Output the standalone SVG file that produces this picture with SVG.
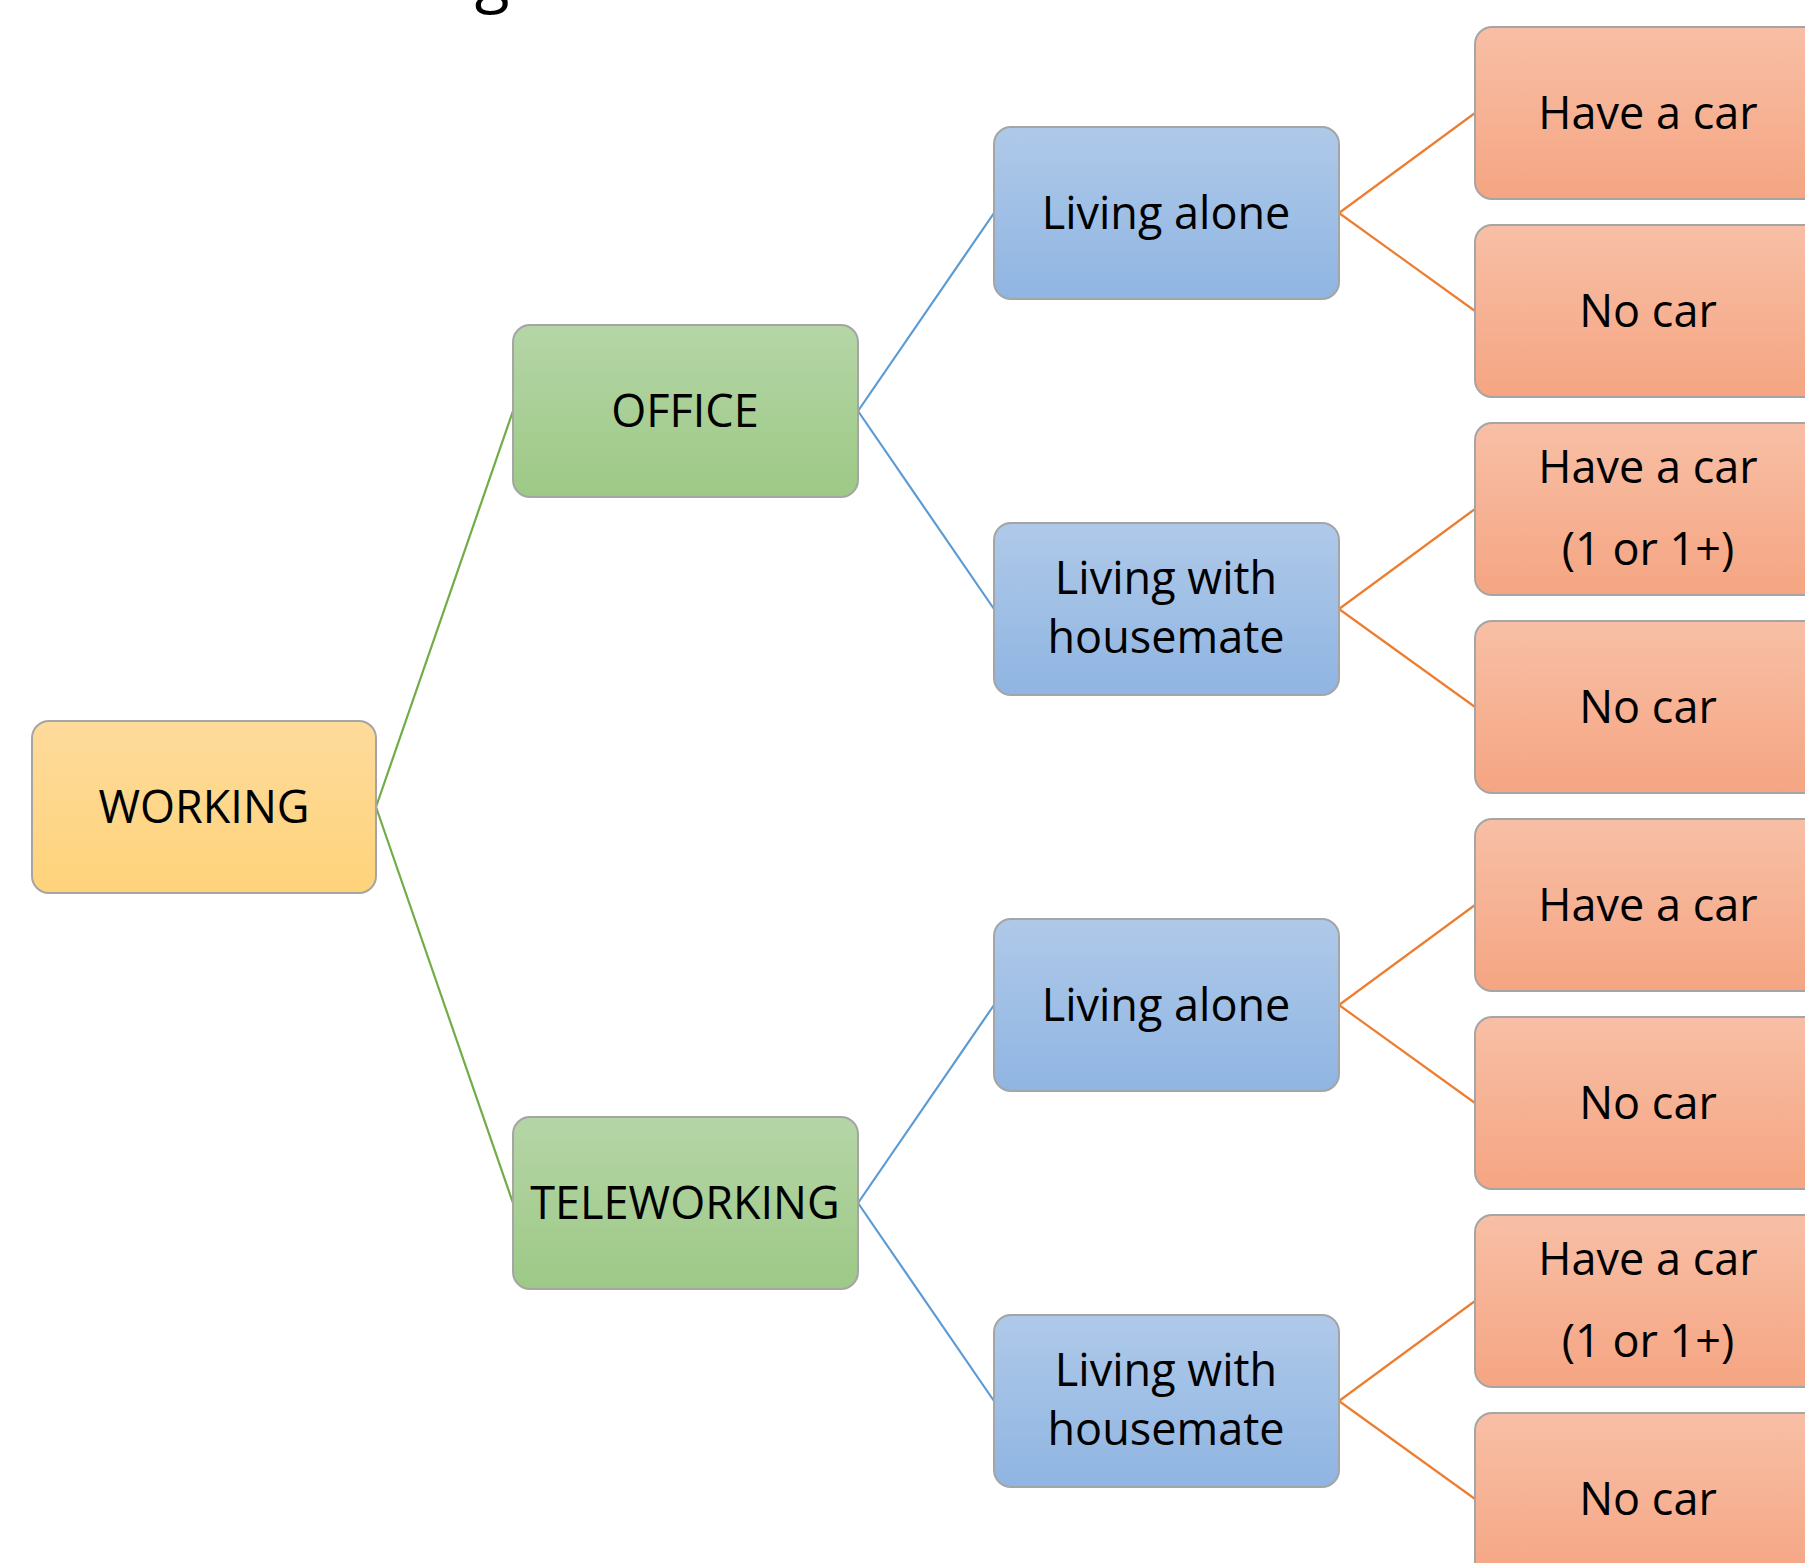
<svg xmlns="http://www.w3.org/2000/svg" width="1805" height="1563" viewBox="0 0 1805 1563">
<defs>
<linearGradient id="gY" x1="0" y1="0" x2="0" y2="1"><stop offset="0" stop-color="#FEDB9C"/><stop offset="1" stop-color="#FED37A"/></linearGradient>
<linearGradient id="gG" x1="0" y1="0" x2="0" y2="1"><stop offset="0" stop-color="#B5D5A6"/><stop offset="1" stop-color="#9DC986"/></linearGradient>
<linearGradient id="gB" x1="0" y1="0" x2="0" y2="1"><stop offset="0" stop-color="#AFC9E9"/><stop offset="1" stop-color="#8FB5E2"/></linearGradient>
<linearGradient id="gO" x1="0" y1="0" x2="0" y2="1"><stop offset="0" stop-color="#F8BFA6"/><stop offset="1" stop-color="#F5A582"/></linearGradient>
</defs>
<style>
.box{stroke:#A5A5A5;stroke-width:2}
.y{fill:url(#gY)}.g{fill:url(#gG)}.b{fill:url(#gB)}.o{fill:url(#gO)}
text{font-family:"Open Sans","Noto Sans","Liberation Sans",sans-serif;font-size:45px;fill:#000;text-anchor:middle}
.cg{stroke:#70AD47}.cb{stroke:#5B9BD5}.co{stroke:#ED7D31}
#connectors line{stroke-width:2.2;fill:none}
</style>
<rect width="1805" height="1563" fill="#FFFFFF"/>
<text x="492" y="0" style="font-size:64px">g</text>
<g id="connectors">
<line class="cg" x1="376" y1="807" x2="513" y2="411"/>
<line class="cg" x1="376" y1="807" x2="513" y2="1203"/>
<line class="cb" x1="858" y1="411" x2="994" y2="213"/>
<line class="cb" x1="858" y1="411" x2="994" y2="609"/>
<line class="cb" x1="858" y1="1203" x2="994" y2="1005"/>
<line class="cb" x1="858" y1="1203" x2="994" y2="1401"/>
<line class="co" x1="1339" y1="213" x2="1475" y2="113"/>
<line class="co" x1="1339" y1="213" x2="1475" y2="311"/>
<line class="co" x1="1339" y1="609" x2="1475" y2="509"/>
<line class="co" x1="1339" y1="609" x2="1475" y2="707"/>
<line class="co" x1="1339" y1="1005" x2="1475" y2="905"/>
<line class="co" x1="1339" y1="1005" x2="1475" y2="1103"/>
<line class="co" x1="1339" y1="1401" x2="1475" y2="1301"/>
<line class="co" x1="1339" y1="1401" x2="1475" y2="1499"/>
</g>
<g id="working"><rect class="box y" x="32" y="721" width="344" height="172" rx="17"/><text x="204" y="823">WORKING</text></g>
<g id="office"><rect class="box g" x="513" y="325" width="345" height="172" rx="17"/><text x="685" y="427">OFFICE</text></g>
<g id="teleworking"><rect class="box g" x="513" y="1117" width="345" height="172" rx="17"/><text x="685" y="1219">TELEWORKING</text></g>
<g id="office-alone"><rect class="box b" x="994" y="127" width="345" height="172" rx="17"/><text x="1166" y="229">Living alone</text></g>
<g id="office-housemate"><rect class="box b" x="994" y="523" width="345" height="172" rx="17"/><text x="1166" y="594">Living with</text><text x="1166" y="653">housemate</text></g>
<g id="tele-alone"><rect class="box b" x="994" y="919" width="345" height="172" rx="17"/><text x="1166" y="1021">Living alone</text></g>
<g id="tele-housemate"><rect class="box b" x="994" y="1315" width="345" height="172" rx="17"/><text x="1166" y="1386">Living with</text><text x="1166" y="1445">housemate</text></g>
<g id="oa-car"><rect class="box o" x="1475" y="27" width="345" height="172" rx="17"/><text x="1648" y="129">Have a car</text></g>
<g id="oa-nocar"><rect class="box o" x="1475" y="225" width="345" height="172" rx="17"/><text x="1648" y="327">No car</text></g>
<g id="oh-car"><rect class="box o" x="1475" y="423" width="345" height="172" rx="17"/><text x="1648" y="483">Have a car</text><text x="1648" y="565">(1 or 1+)</text></g>
<g id="oh-nocar"><rect class="box o" x="1475" y="621" width="345" height="172" rx="17"/><text x="1648" y="723">No car</text></g>
<g id="ta-car"><rect class="box o" x="1475" y="819" width="345" height="172" rx="17"/><text x="1648" y="921">Have a car</text></g>
<g id="ta-nocar"><rect class="box o" x="1475" y="1017" width="345" height="172" rx="17"/><text x="1648" y="1119">No car</text></g>
<g id="th-car"><rect class="box o" x="1475" y="1215" width="345" height="172" rx="17"/><text x="1648" y="1275">Have a car</text><text x="1648" y="1357">(1 or 1+)</text></g>
<g id="th-nocar"><rect class="box o" x="1475" y="1413" width="345" height="172" rx="17"/><text x="1648" y="1515">No car</text></g>
</svg>
